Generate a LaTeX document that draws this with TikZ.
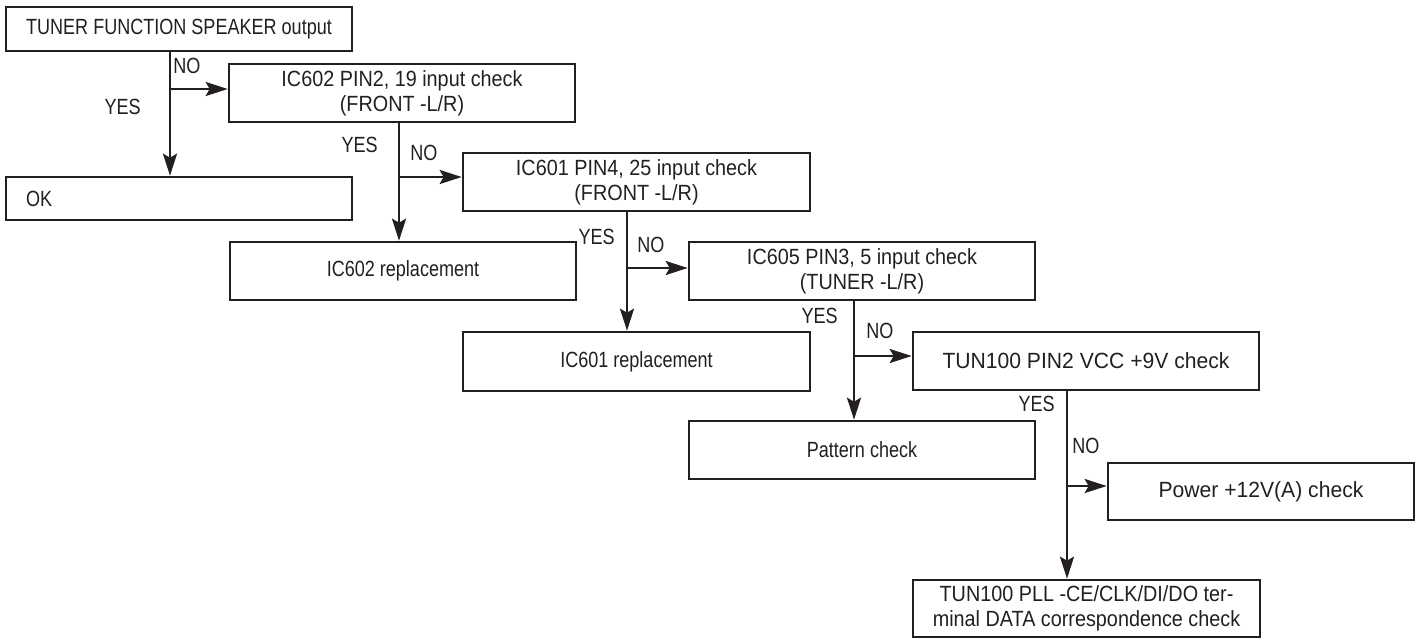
\documentclass[tikz,border=0pt]{standalone}
\usepackage{fontspec}
\setmainfont{Liberation Sans}[FakeStretch=0.96]
\newfontfamily\midfont{Liberation Sans}[FakeStretch=0.9]
\newfontfamily\narrowfont{Liberation Sans}[FakeStretch=0.82]
\usetikzlibrary{arrows.meta}
\definecolor{ink}{RGB}{35,31,32}

\begin{document}
\begin{tikzpicture}[x=1pt,y=-1pt,>={Stealth[length=22pt,width=14pt,inset=4pt]},line join=miter,
	font=\fontsize{22}{25}\selectfont,ink,line width=2.6pt,
	box/.style={draw=ink,line width=2.6pt,minimum width=346pt,minimum height=58pt,inner sep=0pt,align=center},
	midtxt/.style={font=\fontsize{22}{25}\midfont},
	narrowtxt/.style={font=\fontsize{22}{25}\narrowfont},
	lbl/.style={inner sep=0pt,narrowtxt}]
	\useasboundingbox (0,0) rectangle (1423,638);
	% boxes
	\node[box,minimum height=44pt,narrowtxt] (tuner) at (179,29) {TUNER FUNCTION SPEAKER output};
	\node[box,minimum height=43pt,text width=306pt,inner xsep=20pt,align=left,narrowtxt] (ok) at (179,198.5) {OK};
	\node[box,midtxt] (ic602) at (402,93) {IC602 PIN2, 19 input check\\(FRONT -L/R)};
	\node[box,narrowtxt] (ic602r) at (403,271) {IC602 replacement};
	\node[box,minimum width=347pt,midtxt] (ic601) at (636.5,182) {IC601 PIN4, 25 input check\\(FRONT -L/R)};
	\node[box,minimum width=347pt,minimum height=59pt,narrowtxt] (ic601r) at (636.5,361.5) {IC601 replacement};
	\node[box,midtxt] (ic605) at (862,271) {IC605 PIN3, 5 input check\\(TUNER -L/R)};
	\node[box,narrowtxt] (pattern) at (862,450) {Pattern check};
	\node[box] (tun9v) at (1086,361) {TUN100 PIN2 VCC +9V check};
	\node[box,minimum width=306pt,minimum height=57pt] (power) at (1261,491.5) {Power +12V(A) check};
	\node[box,minimum width=347pt,minimum height=57pt,midtxt] (pll) at (1086.5,608.5) {TUN100 PLL -CE/CLK/DI/DO ter-\\minal DATA correspondence check};
	% branch points
	\coordinate (j1) at (170,89);
	\coordinate (j2) at (399,177);
	\coordinate (j3) at (627,268);
	\coordinate (j4) at (854,356);
	\coordinate (j5) at (1067,486);
	% connectors
	\draw[->] (tuner.south -| j1) -- (ok.north -| j1);
	\draw[->] (j1) -- (ic602.west |- j1);
	\draw[->] (ic602.south -| j2) -- (ic602r.north -| j2);
	\draw[->] (j2) -- (ic601.west |- j2);
	\draw[->] (ic601.south -| j3) -- (ic601r.north -| j3);
	\draw[->] (j3) -- (ic605.west |- j3);
	\draw[->] (ic605.south -| j4) -- (pattern.north -| j4);
	\draw[->] (j4) -- (tun9v.west |- j4);
	\draw[->] (tun9v.south -| j5) -- (pll.north -| j5);
	\draw[->] (j5) -- (power.west |- j5);
	% yes / no
	\node[lbl,anchor=west] (no1) at (172,66) {NO};
	\node[lbl,anchor=east] (yes1) at (142,107) {YES};
	\node[lbl,anchor=east] (yes2) at (379,145) {YES};
	\node[lbl,anchor=west] (no2) at (409,153) {NO};
	\node[lbl,anchor=east] (yes3) at (616,237) {YES};
	\node[lbl,anchor=west] (no3) at (636,245) {NO};
	\node[lbl,anchor=east] (yes4) at (839,316) {YES};
	\node[lbl,anchor=west] (no4) at (865,331) {NO};
	\node[lbl,anchor=east] (yes5) at (1056,404) {YES};
	\node[lbl,anchor=west] (no5) at (1071,446) {NO};
\end{tikzpicture}
\end{document}
